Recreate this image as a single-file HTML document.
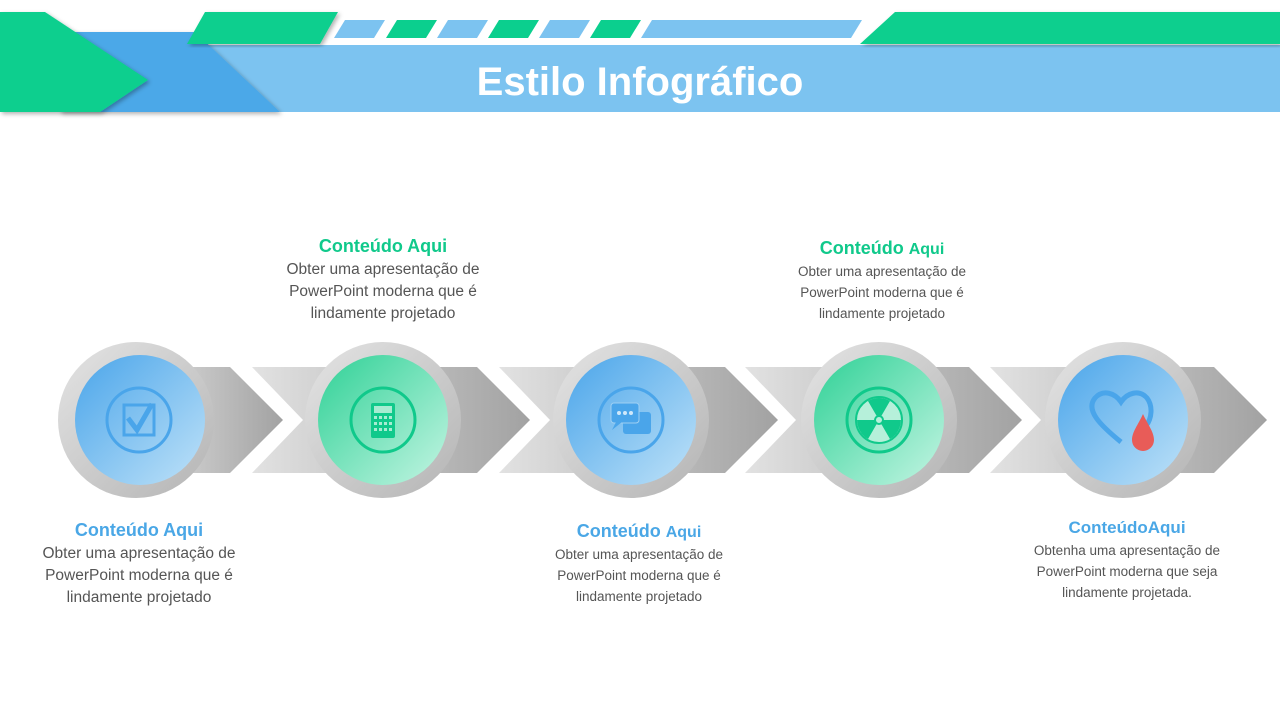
<!DOCTYPE html>
<html><head><meta charset="utf-8"><style>
body{margin:0;width:1280px;height:720px;overflow:hidden;background:#fff;font-family:"Liberation Sans",sans-serif}
.t{position:absolute;text-align:center;width:260px}
.h{font-weight:bold;font-size:18px;margin-bottom:2px}
.b{font-size:15px;color:#555;line-height:21px}
.s{font-size:13.5px;width:205px;margin:0 auto}
.g{color:#10c98b}.bl{color:#4aa7e6}
</style></head><body>
<svg width="1280" height="720" style="position:absolute;left:0;top:0">
<defs>
<linearGradient id="ar" x1="0" x2="1"><stop offset="0" stop-color="#e2e2e2"/><stop offset="1" stop-color="#a2a2a2"/></linearGradient>
<linearGradient id="ring" x1="0" y1="0" x2="1" y2="1"><stop offset="0" stop-color="#e4e4e4"/><stop offset="1" stop-color="#b4b4b4"/></linearGradient>
<linearGradient id="blu" x1="0" y1="0" x2="1" y2="1"><stop offset="0" stop-color="#4aa5ea"/><stop offset="1" stop-color="#bfe2f8"/></linearGradient>
<linearGradient id="grn" x1="0" y1="0" x2="1" y2="1"><stop offset="0" stop-color="#2fd196"/><stop offset="1" stop-color="#c4f5e3"/></linearGradient>
<filter id="sh"><feDropShadow dx="2" dy="2" stdDeviation="2" flood-opacity="0.3"/></filter>
</defs>
<polygon points="190,45 1280,45 1280,112 280,112" fill="#7cc3f0"/>
<polygon points="60,32 195,32 280,112 60,112" fill="#4ba8e8" filter="url(#sh)"/>
<polygon points="0,12 45,12 148,80 100,112 0,112" fill="#0bcf8e" filter="url(#sh)"/>
<polygon points="205,12 338,12 320,44 187,44" fill="#0bcf8e" filter="url(#sh)"/>
<polygon points="345,20 385,20 374,38 334,38" fill="#7cc3f0"/>
<polygon points="397,20 437,20 426,38 386,38" fill="#0bcf8e"/>
<polygon points="448,20 488,20 477,38 437,38" fill="#7cc3f0"/>
<polygon points="499,20 539,20 528,38 488,38" fill="#0bcf8e"/>
<polygon points="550,20 590,20 579,38 539,38" fill="#7cc3f0"/>
<polygon points="601,20 641,20 630,38 590,38" fill="#0bcf8e"/>
<polygon points="652,20 862,20 851,38 641,38" fill="#7cc3f0"/>
<polygon points="895,12 1280,12 1280,44 860,44" fill="#0bcf8e" filter="url(#sh)"/>
<text x="640" y="95" text-anchor="middle" font-family="Liberation Sans" font-weight="bold" font-size="40" fill="#fff">Estilo Infográfico</text>
<polygon points="133,367 230,367 283,420 230,473 133,473" fill="url(#ar)"/>
<polygon points="252,367 477,367 530,420 477,473 252,473 303,420" fill="url(#ar)"/>
<polygon points="499,367 725,367 778,420 725,473 499,473 550,420" fill="url(#ar)"/>
<polygon points="745,367 969,367 1022,420 969,473 745,473 796,420" fill="url(#ar)"/>
<polygon points="990,367 1214,367 1267,420 1214,473 990,473 1041,420" fill="url(#ar)"/>
<g>
<circle cx="136" cy="420" r="78" fill="url(#ring)"/><circle cx="140" cy="420" r="65" fill="url(#blu)"/>
<circle cx="383" cy="420" r="78" fill="url(#ring)"/><circle cx="383" cy="420" r="65" fill="url(#grn)"/>
<circle cx="631" cy="420" r="78" fill="url(#ring)"/><circle cx="631" cy="420" r="65" fill="url(#blu)"/>
<circle cx="879" cy="420" r="78" fill="url(#ring)"/><circle cx="879" cy="420" r="65" fill="url(#grn)"/>
<circle cx="1123" cy="420" r="78" fill="url(#ring)"/><circle cx="1123" cy="420" r="65" fill="url(#blu)"/>
</g>
<circle cx="139" cy="420" r="32" fill="none" stroke="#4aa5ea" stroke-width="3"/>
<rect x="124" y="405" width="30" height="30" fill="none" stroke="#4aa5ea" stroke-width="3"/>
<path d="M128 418 L137 430 L152 404" fill="none" stroke="#4aa5ea" stroke-width="5"/>
<circle cx="383" cy="420" r="32" fill="none" stroke="#10c98b" stroke-width="3"/>
<rect x="371" y="403" width="24" height="35" rx="2" fill="#10c98b"/>
<rect x="374" y="406" width="18" height="7" fill="#a7ecd2"/>
<g fill="#a7ecd2"><rect x="374" y="416" width="3" height="3"/><rect x="379" y="416" width="3" height="3"/><rect x="384" y="416" width="3" height="3"/><rect x="389" y="416" width="3" height="3"/><rect x="374" y="422" width="3" height="3"/><rect x="379" y="422" width="3" height="3"/><rect x="384" y="422" width="3" height="3"/><rect x="389" y="422" width="3" height="3"/><rect x="374" y="428" width="3" height="3"/><rect x="379" y="428" width="3" height="3"/><rect x="384" y="428" width="3" height="3"/><rect x="389" y="428" width="3" height="3"/></g>
<circle cx="631" cy="420" r="32" fill="none" stroke="#4aa5ea" stroke-width="3"/>
<rect x="623" y="412" width="28" height="22" rx="3" fill="#4aa5ea"/>
<rect x="611" y="403" width="28" height="20" rx="3" fill="#4aa5ea" stroke="#9fd0f3" stroke-width="1"/>
<polygon points="616,422 622,422 612,430" fill="#4aa5ea"/>
<g fill="#cfe8fa"><circle cx="619" cy="413" r="2"/><circle cx="625" cy="413" r="2"/><circle cx="631" cy="413" r="2"/></g>
<circle cx="879" cy="420" r="32" fill="none" stroke="#10c98b" stroke-width="3"/>
<circle cx="879" cy="420" r="23" fill="#b6f0da" stroke="#10c98b" stroke-width="2"/>
<g fill="#10c98b"><path d="M879 420 L868 401 A22 22 0 0 1 890 401Z"/><path d="M879 420 L868 401 A22 22 0 0 1 890 401Z" transform="rotate(120 879 420)"/><path d="M879 420 L868 401 A22 22 0 0 1 890 401Z" transform="rotate(240 879 420)"/></g>
<circle cx="879" cy="420" r="4" fill="#b6f0da" stroke="#10c98b" stroke-width="2"/>
<path d="M1121 442 C1100 425 1085 410 1095 398 C1103 389 1115 393 1121 402 C1127 393 1139 389 1147 398 C1153 406 1152 418 1146 426" fill="none" stroke="#4aa5ea" stroke-width="5"/>
<path d="M1143 414 C1138 425 1132 432 1132 440 A9 9 0 0 0 1154 440 C1154 432 1148 425 1143 414Z" fill="#e85c58"/>
</svg>
<div class="t" style="left:253px;top:236px"><div class="h g">Conteúdo Aqui</div><div class="b" style="font-size:15.5px;line-height:22px;width:220px;margin:0 auto">Obter uma apresentação de PowerPoint moderna que é lindamente projetado</div></div>
<div class="t" style="left:752px;top:238px"><div class="h g">Conteúdo <span style="font-size:16px">Aqui</span></div><div class="b s">Obter uma apresentação de PowerPoint moderna que é lindamente projetado</div></div>
<div class="t" style="left:9px;top:520px"><div class="h bl">Conteúdo Aqui</div><div class="b" style="font-size:15.5px;line-height:22px;width:220px;margin:0 auto">Obter uma apresentação de PowerPoint moderna que é lindamente projetado</div></div>
<div class="t" style="left:509px;top:521px"><div class="h bl">Conteúdo <span style="font-size:16px">Aqui</span></div><div class="b s">Obter uma apresentação de PowerPoint moderna que é lindamente projetado</div></div>
<div class="t" style="left:997px;top:518px"><div class="h bl" style="font-size:17px">ConteúdoAqui</div><div class="b s">Obtenha uma apresentação de PowerPoint moderna que seja lindamente projetada.</div></div>
</body></html>
